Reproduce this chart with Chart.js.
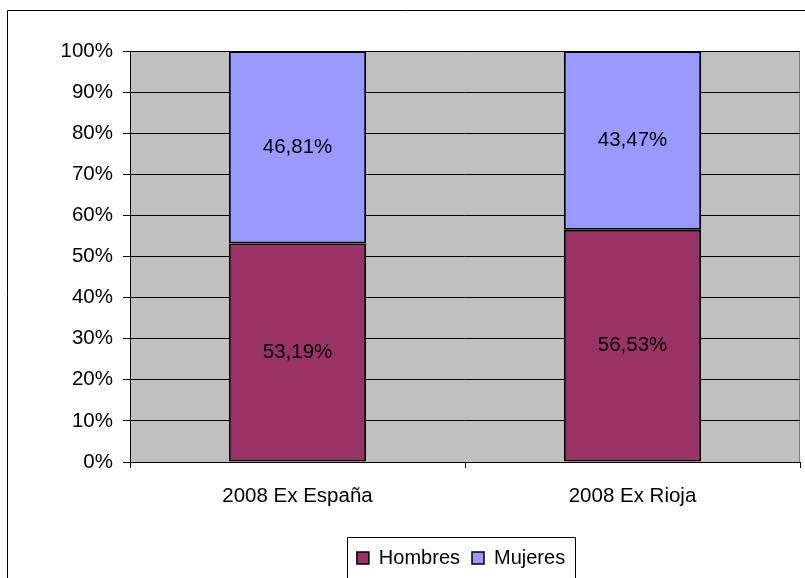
<!DOCTYPE html>
<html>
<head>
<meta charset="utf-8">
<script src="https://cdn.jsdelivr.net/npm/chart.js@4.4.0/dist/chart.umd.min.js"></script>
<style>
  html, body { margin: 0; padding: 0; background: #fff; }
  #wrap { width: 805px; height: 578px; }
</style>
</head>
<body>
<div id="wrap"><canvas id="chart" width="805" height="578"></canvas></div>
<script>
// categories and series (percent)
const categorias = ['2008 Ex España', '2008 Ex Rioja'];
const hombres = [53.19, 56.53];
const mujeres = [46.81, 43.47];
const yTicks = [0, 10, 20, 30, 40, 50, 60, 70, 80, 90, 100];

const FONT = "'Liberation Sans', Arial, sans-serif";
const FS = 20.5;
const fmt = v => v.toFixed(2).replace('.', ',') + '%';

// outer frame, grey plot background, legend shift + frame
const fondo = {
  id: 'fondo',
  afterLayout(chart) {
    // original chart was wider than the picture: legend sits right of centre
    const lg = chart.legend;
    if (!lg) return;
    const dx = 61;
    lg.left += dx; lg.right += dx;
  },
  beforeDraw(chart) {
    const { ctx, chartArea: a } = chart;
    ctx.save();
    ctx.strokeStyle = '#000';
    ctx.lineWidth = 1;
    ctx.beginPath();
    ctx.moveTo(7.5, 600); ctx.lineTo(7.5, 10.5); ctx.lineTo(810, 10.5);
    ctx.stroke();
    ctx.fillStyle = '#c0c0c0';
    ctx.fillRect(a.left, a.top, a.right - a.left, a.bottom - a.top);
    ctx.strokeStyle = '#808080';
    ctx.beginPath();
    ctx.moveTo(a.left, a.top + 0.5); ctx.lineTo(a.right - 0.5, a.top + 0.5); ctx.lineTo(a.right - 0.5, a.bottom);
    ctx.stroke();
    ctx.restore();
  },
  afterDraw(chart) {
    const lg = chart.legend;
    if (!lg || !lg.legendHitBoxes.length) return;
    const ctx = chart.ctx;
    const first = lg.legendHitBoxes[0];
    const last = lg.legendHitBoxes[lg.legendHitBoxes.length - 1];
    ctx.save();
    ctx.strokeStyle = '#000';
    ctx.lineWidth = 1;
    const x0 = Math.round(first.left - 10) + 0.5;
    const x1 = Math.round(last.left + last.width + 10) + 0.5;
    const y0 = Math.round(first.top - 11) + 0.5;
    ctx.beginPath();
    ctx.moveTo(x0, 600); ctx.lineTo(x0, y0); ctx.lineTo(x1, y0); ctx.lineTo(x1, 600);
    ctx.stroke();
    ctx.restore();
  }
};

// value labels centred in each segment
const etiquetas = {
  id: 'etiquetas',
  afterDatasetsDraw(chart) {
    const ctx = chart.ctx;
    ctx.save();
    ctx.font = FS + 'px ' + FONT;
    ctx.fillStyle = '#000';
    ctx.textAlign = 'center';
    ctx.textBaseline = 'middle';
    chart.data.datasets.forEach((ds, i) => {
      chart.getDatasetMeta(i).data.forEach((bar, j) => {
        const p = bar.getProps(['x', 'y', 'base'], true);
        ctx.fillText(fmt(ds.data[j]), p.x, (p.y + p.base) / 2);
      });
    });
    ctx.restore();
  }
};

new Chart(document.getElementById('chart'), {
  type: 'bar',
  data: {
    labels: categorias,
    datasets: [
      { label: 'Hombres', data: hombres, backgroundColor: '#993366', borderColor: '#000', borderWidth: 2, borderSkipped: false },
      { label: 'Mujeres', data: mujeres, backgroundColor: '#9999ff', borderColor: '#000', borderWidth: 2, borderSkipped: false }
    ]
  },
  options: {
    responsive: false,
    animation: false,
    devicePixelRatio: 1,
    layout: { padding: { left: 0, right: 5, top: 51, bottom: 0 } },
    datasets: { bar: { categoryPercentage: 1, barPercentage: 0.41 } },
    plugins: {
      tooltip: { enabled: false },
      legend: {
        position: 'bottom',
        labels: {
          font: { size: 20, family: FONT },
          color: '#000',
          boxWidth: 12,
          boxHeight: 12,
          padding: 12,
          generateLabels(chart) {
            return chart.data.datasets.map((ds, i) => ({
              text: ds.label, fillStyle: ds.backgroundColor, strokeStyle: '#000',
              lineWidth: 1.5, datasetIndex: i, hidden: false
            }));
          }
        }
      }
    },
    scales: {
      x: {
        stacked: true,
        border: { color: '#000', width: 1 },
        grid: { drawOnChartArea: false, drawTicks: true, tickLength: 6, color: '#000', offset: true },
        ticks: { font: { size: FS, family: FONT }, color: '#000', padding: 16 },
        afterFit(s) { s.height = 74; }
      },
      y: {
        stacked: true,
        min: 0, max: 100,
        afterBuildTicks(s) { s.ticks = yTicks.map(v => ({ value: v })); },
        border: { color: '#000', width: 1 },
        grid: { color: '#000', lineWidth: 1, tickLength: 7 },
        ticks: { font: { size: FS, family: FONT }, color: '#000', padding: 10, callback: v => v + '%' },
        afterFit(s) { s.width = 130; }
      }
    }
  },
  plugins: [fondo, etiquetas]
});
</script>
</body>
</html>
